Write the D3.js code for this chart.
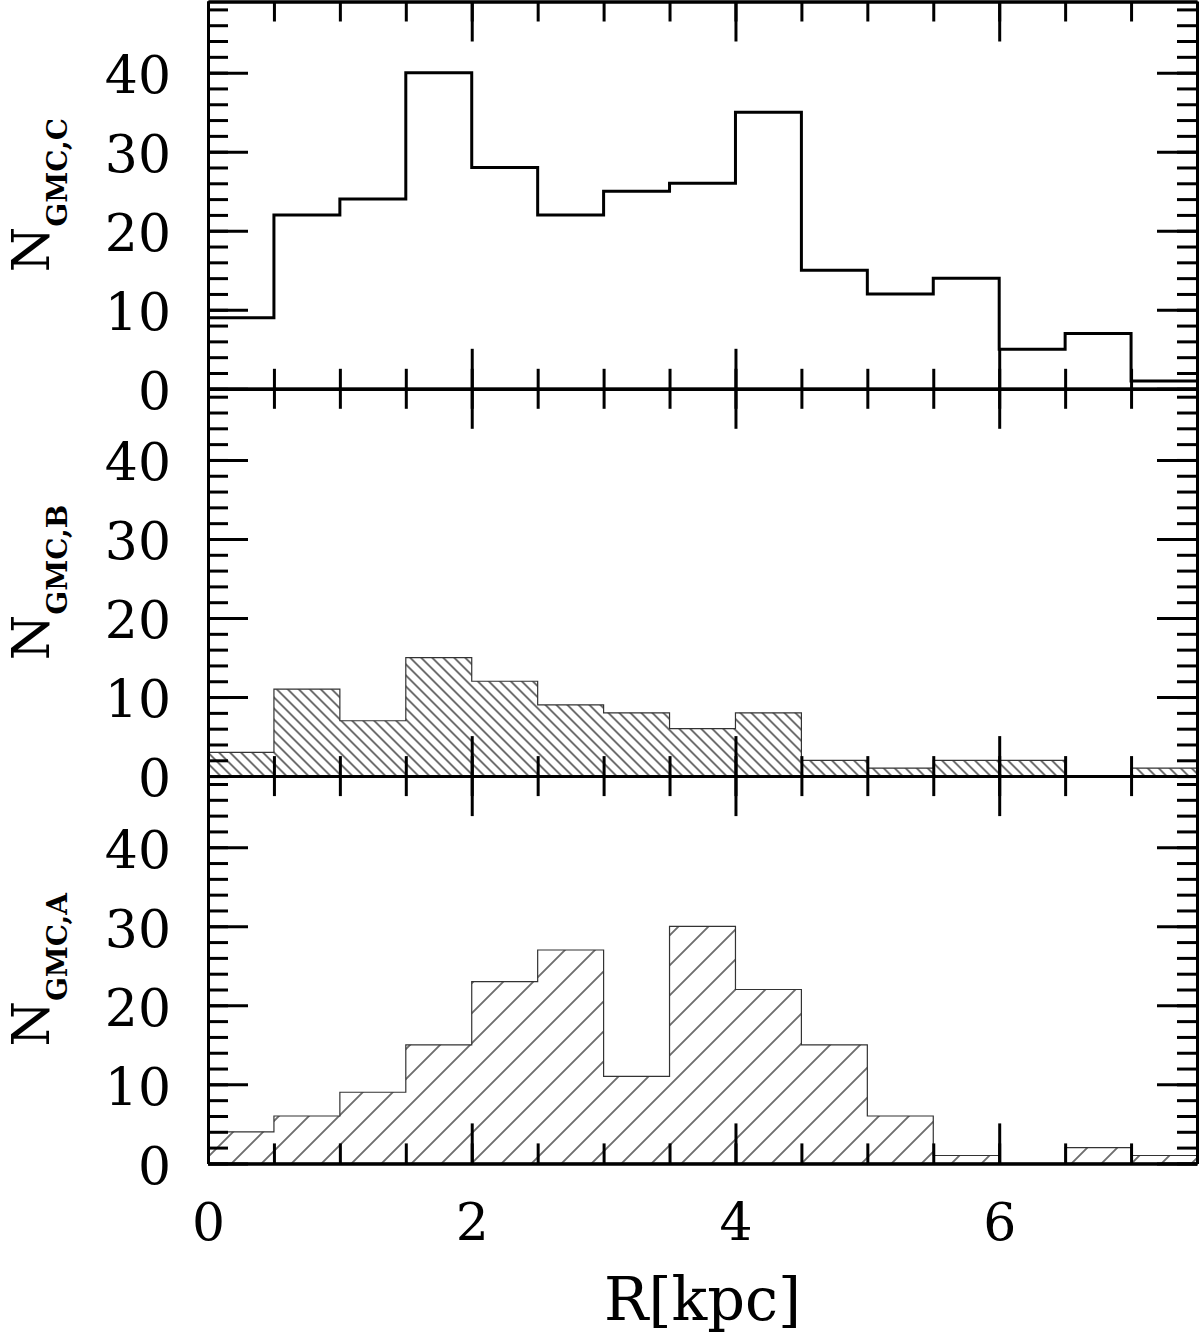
<!DOCTYPE html>
<html>
<head>
<meta charset="utf-8">
<script src="https://cdn.jsdelivr.net/npm/d3@7"></script>
<style>
  body { margin: 0; background: #fff; }
  text { font-family: "DejaVu Serif", "Liberation Serif", serif; fill: #000; }
</style>
</head>
<body>
<script>
// bin edges 0..7.5 kpc, width 0.5
var binStarts = [0, 0.5, 1, 1.5, 2, 2.5, 3, 3.5, 4, 4.5, 5, 5.5, 6, 6.5, 7];
var binWidth = 0.5;
var countsC = [9, 22, 24, 40, 28, 22, 25, 26, 35, 15, 12, 14, 5, 7, 1];
var countsB = [3, 11, 7, 15, 12, 9, 8, 6, 8, 2, 1, 2, 2, 0, 1];
var countsA = [4, 6, 9, 15, 23, 27, 11, 30, 22, 15, 6, 1, 0, 2, 1];
var panelNames = ["C", "B", "A"];
var yTickLabels = [0, 10, 20, 30, 40];
var xTickLabels = [0, 2, 4, 6];
var xTitle = "R[kpc]";

var W = 1200, H = 1336;
var left = 208, right = 1197, top0 = 1.5, panelH = 387.3;

var svg = d3.select("body").append("svg")
  .attr("width", W).attr("height", H);

var defs = svg.append("defs");
// hatch patterns: backslash (dense) for B, slash (sparse) for A
function hatch(id, spacing, angle) {
  var p = defs.append("pattern")
    .attr("id", id)
    .attr("patternUnits", "userSpaceOnUse")
    .attr("width", 20).attr("height", spacing)
    .attr("patternTransform", "rotate(" + angle + ")");
  p.append("line")
    .attr("x1", 0).attr("x2", 20).attr("y1", spacing / 2).attr("y2", spacing / 2)
    .attr("stroke", "#000").attr("stroke-width", 1.1);
}
hatch("hatchB", 11 / Math.SQRT2, 45);
hatch("hatchA", 30 / Math.SQRT2, -45);

var x = d3.scaleLinear().domain([0, 7.5]).range([left, right]);

var panels = [
  {name: panelNames[0], counts: countsC, style: "line"},
  {name: panelNames[1], counts: countsB, style: "hatchB"},
  {name: panelNames[2], counts: countsA, style: "hatchA"}
];

panels.forEach(function(p, i) {
  var top = top0 + i * panelH, bottom = top + panelH;
  var y = d3.scaleLinear().domain([0, 49]).range([bottom, top]);
  var g = svg.append("g");

  var pts = binStarts.map(function(b, k) { return [b, p.counts[k]]; });
  pts.push([binStarts[binStarts.length - 1] + binWidth, p.counts[p.counts.length - 1]]);

  if (p.style == "line") {
    g.append("path")
      .attr("d", d3.line().curve(d3.curveStepAfter)
        .x(function(d) { return x(d[0]); })
        .y(function(d) { return y(d[1]); })(pts))
      .attr("fill", "none").attr("stroke", "#000").attr("stroke-width", 3);
  } else {
    g.append("path")
      .attr("d", d3.area().curve(d3.curveStepAfter)
        .x(function(d) { return x(d[0]); })
        .y0(y(0))
        .y1(function(d) { return y(d[1]); })(pts))
      .attr("fill", "url(#" + p.style + ")")
      .attr("stroke", "#333").attr("stroke-width", 1.2);
  }

  // frame + inward ticks
  var minorY = d3.range(0, 49, 2), majorY = d3.range(0, 49, 10);
  var minorX = d3.range(0, 7.51, 0.5), majorX = d3.range(0, 7.51, 2);
  function ax(axis, vals, size, tr) {
    var a = g.append("g").attr("transform", tr)
      .call(axis.tickValues(vals).tickSize(size).tickSizeOuter(0).tickFormat(""));
    a.selectAll("line").attr("stroke", "#000").attr("stroke-width", 3);
    a.select(".domain").attr("stroke", "#000").attr("stroke-width", 3);
  }
  ax(d3.axisRight(y), minorY, 20, "translate(" + left + ",0)");
  ax(d3.axisRight(y), majorY, 40, "translate(" + left + ",0)");
  ax(d3.axisLeft(y), minorY, 20, "translate(" + right + ",0)");
  ax(d3.axisLeft(y), majorY, 40, "translate(" + right + ",0)");
  ax(d3.axisBottom(x), minorX, 20, "translate(0," + top + ")");
  ax(d3.axisBottom(x), majorX, 40, "translate(0," + top + ")");
  ax(d3.axisTop(x), minorX, 20, "translate(0," + bottom + ")");
  ax(d3.axisTop(x), majorX, 40, "translate(0," + bottom + ")");

  // y tick labels
  var yl = g.append("g").attr("transform", "translate(" + left + ",0)")
    .call(d3.axisLeft(y).tickValues(yTickLabels).tickSize(0).tickPadding(37));
  yl.select(".domain").remove();
  yl.selectAll("text").style("font-size", "52px")
    .style("font-family", "DejaVu Serif").attr("dy", "0.38em");

  // y title
  var t = g.append("text")
    .attr("transform", "translate(49," + (top + panelH / 2) + ") rotate(-90)")
    .attr("text-anchor", "middle");
  t.append("tspan").text("N").style("font-size", "52px");
  t.append("tspan").text("GMC," + p.name).style("font-size", "28px")
    .style("font-weight", "bold").attr("dy", 18);

  if (i == 2) {
    var xl = g.append("g").attr("transform", "translate(0," + bottom + ")")
      .call(d3.axisBottom(x).tickValues(xTickLabels).tickSize(0).tickPadding(40));
    xl.select(".domain").remove();
    xl.selectAll("text").style("font-size", "52px")
      .style("font-family", "DejaVu Serif").attr("dy", "0.71em");
    svg.append("text")
      .attr("x", (left + right) / 2).attr("y", 1320)
      .attr("text-anchor", "middle")
      .style("font-size", "59px")
      .text(xTitle);
  }
});
</script>
</body>
</html>
